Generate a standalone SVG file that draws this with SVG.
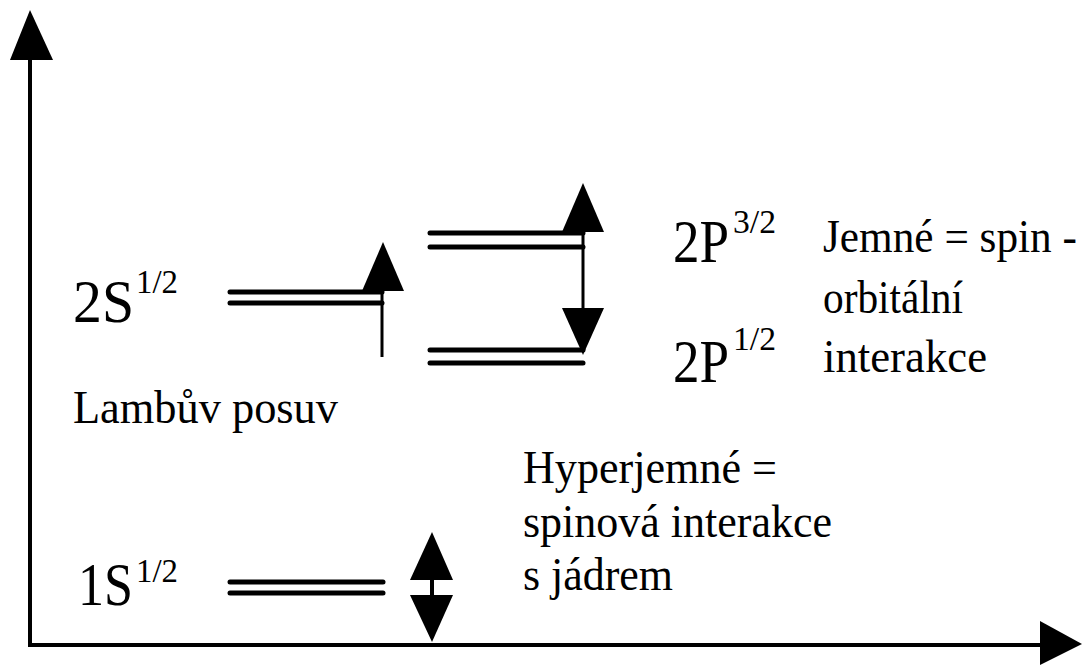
<svg xmlns="http://www.w3.org/2000/svg" width="1086" height="666" viewBox="0 0 1086 666">
<style>
.lvl{stroke:#000;stroke-width:5;stroke-linecap:round;fill:none}
.ax{stroke:#000;stroke-width:4;fill:none}
.stem{stroke:#000;stroke-width:3;fill:none}
.head{fill:#000}
.t{font-family:"Liberation Serif","Times New Roman",serif;fill:#000}
.big{font-size:62px}
.sup{font-size:33px}
.lab{font-size:46px}
</style>
<rect width="1086" height="666" fill="#fff"/>
<g id="axes">
<line class="ax" x1="30" y1="58" x2="30" y2="647"/>
<polygon class="head" points="30,10 10,60 53,60"/>
<line class="ax" x1="28" y1="645" x2="1042" y2="645"/>
<polygon class="head" points="1040,621 1082,644 1040,665"/>
</g>
<g id="level-2S">
<line class="lvl" x1="230" y1="292" x2="382" y2="292"/>
<line class="lvl" x1="230" y1="303" x2="382" y2="303"/>
<text class="t big"><tspan x="73" y="322" textLength="61" lengthAdjust="spacingAndGlyphs">2S</tspan><tspan class="sup" x="136" y="293" textLength="42" lengthAdjust="spacingAndGlyphs">1/2</tspan></text>
</g>
<g id="level-2P32">
<line class="lvl" x1="430" y1="233" x2="583" y2="233"/>
<line class="lvl" x1="430" y1="247" x2="583" y2="247"/>
<text class="t big"><tspan x="673" y="262" textLength="56" lengthAdjust="spacingAndGlyphs">2P</tspan><tspan class="sup" x="733" y="233" textLength="43" lengthAdjust="spacingAndGlyphs">3/2</tspan></text>
</g>
<g id="level-2P12">
<line class="lvl" x1="430" y1="350" x2="583" y2="350"/>
<line class="lvl" x1="430" y1="363" x2="583" y2="363"/>
<text class="t big"><tspan x="673" y="382" textLength="56" lengthAdjust="spacingAndGlyphs">2P</tspan><tspan class="sup" x="733" y="350" textLength="43" lengthAdjust="spacingAndGlyphs">1/2</tspan></text>
</g>
<g id="level-1S">
<line class="lvl" x1="230" y1="582" x2="383" y2="582"/>
<line class="lvl" x1="230" y1="593" x2="383" y2="593"/>
<text class="t big"><tspan x="78" y="605" textLength="55" lengthAdjust="spacingAndGlyphs">1S</tspan><tspan class="sup" x="136" y="582" textLength="42" lengthAdjust="spacingAndGlyphs">1/2</tspan></text>
</g>
<g id="label-lamb">
<text class="t lab" x="73" y="423" textLength="265" lengthAdjust="spacingAndGlyphs">Lambův posuv</text>
</g>
<g id="label-fine">
<text class="t lab" x="823" y="252" textLength="254" lengthAdjust="spacingAndGlyphs">Jemné = spin -</text>
<text class="t lab" x="823" y="313" textLength="140" lengthAdjust="spacingAndGlyphs">orbitální</text>
<text class="t lab" x="823" y="372" textLength="164" lengthAdjust="spacingAndGlyphs">interakce</text>
</g>
<g id="label-hyperfine">
<text class="t lab" x="523" y="483" textLength="254" lengthAdjust="spacingAndGlyphs">Hyperjemné =</text>
<text class="t lab" x="523" y="537" textLength="309" lengthAdjust="spacingAndGlyphs">spinová interakce</text>
<text class="t lab" x="523" y="590" textLength="150" lengthAdjust="spacingAndGlyphs">s jádrem</text>
</g>
<g id="connectors">
<line class="stem" x1="382" y1="288" x2="382" y2="357"/>
<polygon class="head" points="383,242 362,291 404,291"/>
<line class="stem" x1="583" y1="228" x2="583" y2="312"/>
<polygon class="head" points="583,183 562,232 604,232"/>
<polygon class="head" points="562,308 604,308 583,355"/>
<line class="ax" x1="432" y1="576" x2="432" y2="599"/>
<polygon class="head" points="432,532 410,580 453,580"/>
<polygon class="head" points="410,595 453,595 432,642"/>
</g>
</svg>
